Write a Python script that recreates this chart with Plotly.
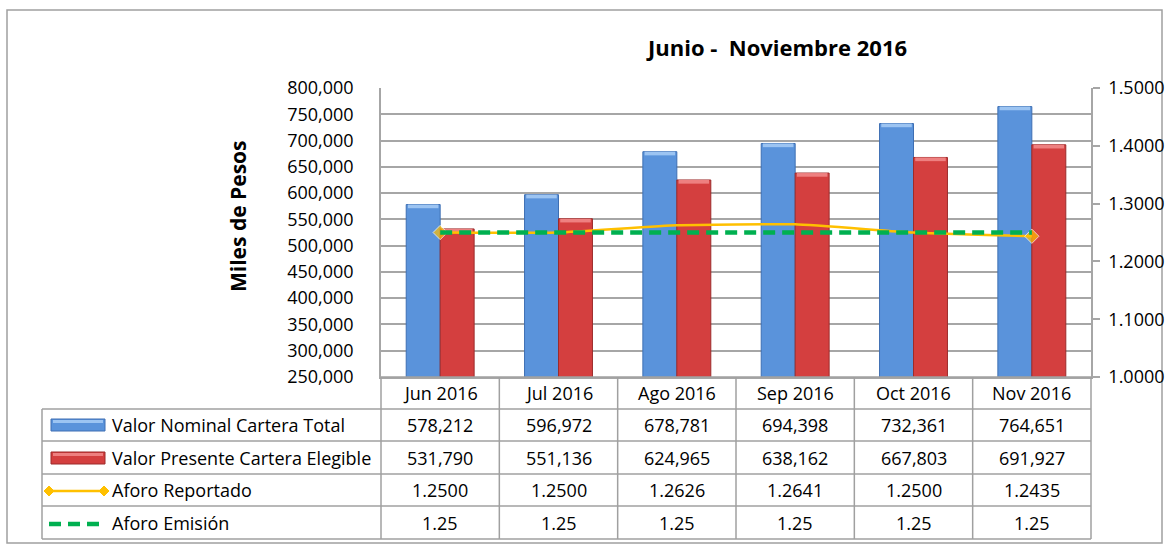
import plotly.graph_objects as go

W, H = 1169, 544

categories = ["Jun 2016", "Jul 2016", "Ago 2016", "Sep 2016", "Oct 2016", "Nov 2016"]
nominal = [578212, 596972, 678781, 694398, 732361, 764651]
presente = [531790, 551136, 624965, 638162, 667803, 691927]
aforo_rep = [1.2500, 1.2500, 1.2626, 1.2641, 1.2500, 1.2435]
aforo_emi = [1.25, 1.25, 1.25, 1.25, 1.25, 1.25]
series_names = ["Valor Nominal Cartera Total", "Valor Presente Cartera Elegible",
                "Aforo Reportado", "Aforo Emisión"]

FONT = "Open Sans"
BLUE = "#5A93DB"
BLUE_EDGE = "#3E6FB3"
BLUE_CAP = "#9CC4F2"
RED = "#D43F3F"
RED_EDGE = "#9C2B2B"
RED_CAP = "#EE8080"
ORANGE = "#FFC000"
GREEN = "#00B050"
GRID = "#A6A6A6"


def px(x):
    return x / W


def py(y):
    return 1 - y / H


X0, X1 = 381, 1091
Y0, Y1 = 88, 377
BAR_W = 0.287
CAP = 7000  # visual height of the bevel highlight, in axis units

fig = go.Figure()
fig.add_trace(go.Bar(x=categories, y=nominal, name=series_names[0],
                     width=BAR_W, offset=-BAR_W,
                     marker=dict(color=BLUE, line=dict(color=BLUE_EDGE, width=1))))
fig.add_trace(go.Bar(x=categories, y=presente, name=series_names[1],
                     width=BAR_W, offset=0,
                     marker=dict(color=RED, line=dict(color=RED_EDGE, width=1))))
fig.add_trace(go.Bar(x=categories, y=[CAP] * len(nominal), base=[v - CAP for v in nominal],
                     width=BAR_W * 0.9, offset=-BAR_W * 0.95, hoverinfo="skip",
                     marker=dict(color=BLUE_CAP, line=dict(width=0))))
fig.add_trace(go.Bar(x=categories, y=[CAP] * len(presente), base=[v - CAP for v in presente],
                     width=BAR_W * 0.9, offset=BAR_W * 0.05, hoverinfo="skip",
                     marker=dict(color=RED_CAP, line=dict(width=0))))
fig.add_trace(go.Scatter(x=categories, y=aforo_rep, name=series_names[2], yaxis="y2",
                         mode="lines+markers",
                         line=dict(color=ORANGE, width=2.5, shape="spline", smoothing=0.4),
                         marker=dict(symbol="diamond", color=ORANGE,
                                     size=[11, 0, 0, 0, 0, 11])))
fig.add_trace(go.Scatter(x=categories, y=aforo_emi, name=series_names[3], yaxis="y2",
                         mode="lines",
                         line=dict(color=GREEN, width=4.5, dash="12px,7px")))

shapes = []
annotations = []

shapes.append(dict(type="rect", xref="paper", yref="paper",
                   x0=px(7), x1=px(1162), y0=py(543), y1=py(10),
                   line=dict(color="#A0A0A0", width=1.5), layer="below"))

row_lines = [377, 409, 441, 474, 506, 539]
TL = 42
line_style = dict(color="#A0A0A0", width=1.5)
for i, yv in enumerate(row_lines):
    x_start = X0 if i == 0 else TL
    shapes.append(dict(type="line", xref="paper", yref="paper",
                       x0=px(x_start), x1=px(X1), y0=py(yv), y1=py(yv), line=line_style))
shapes.append(dict(type="line", xref="paper", yref="paper",
                   x0=px(TL), x1=px(TL), y0=py(409), y1=py(539), line=line_style))
n = len(categories)
for k in range(n + 1):
    shapes.append(dict(type="line", xref="paper", yref="paper",
                       x0=px(X0 + (X1 - X0) * k / n), x1=px(X0 + (X1 - X0) * k / n),
                       y0=py(377), y1=py(539), line=line_style))

row_centers = [393, 425, 458, 490, 523]
row_values = [
    categories,
    [f"{v:,}" for v in nominal],
    [f"{v:,}" for v in presente],
    [f"{v:.4f}" for v in aforo_rep],
    [f"{v:.2f}" for v in aforo_emi],
]
for r, vals in enumerate(row_values):
    for k, txt in enumerate(vals):
        annotations.append(dict(x=categories[k], xref="x", y=py(row_centers[r]), yref="paper",
                                text=txt, showarrow=False,
                                font=dict(family=FONT, size=18, color="#000000"),
                                xanchor="center", yanchor="middle"))

for r, name in enumerate(series_names):
    annotations.append(dict(x=px(110), xref="paper", y=py(row_centers[r + 1]), yref="paper",
                            text=name, showarrow=False,
                            font=dict(family=FONT, size=18, color="#000000"),
                            xanchor="left", yanchor="middle"))

shapes.append(dict(type="rect", xref="paper", yref="paper",
                   x0=px(51), x1=px(105), y0=py(431), y1=py(419),
                   fillcolor=BLUE, line=dict(color=BLUE_EDGE, width=1)))
shapes.append(dict(type="rect", xref="paper", yref="paper",
                   x0=px(53), x1=px(103), y0=py(423), y1=py(420),
                   fillcolor=BLUE_CAP, line=dict(width=0)))
shapes.append(dict(type="rect", xref="paper", yref="paper",
                   x0=px(51), x1=px(105), y0=py(464), y1=py(452),
                   fillcolor=RED, line=dict(color=RED_EDGE, width=1)))
shapes.append(dict(type="rect", xref="paper", yref="paper",
                   x0=px(53), x1=px(103), y0=py(456), y1=py(453),
                   fillcolor=RED_CAP, line=dict(width=0)))
shapes.append(dict(type="line", xref="paper", yref="paper",
                   x0=px(49), x1=px(104), y0=py(491), y1=py(491),
                   line=dict(color=ORANGE, width=2.5)))
for xc in (49, 104):
    shapes.append(dict(type="path", xref="paper", yref="paper",
                       path=f"M {px(xc-5)},{py(491)} L {px(xc)},{py(486)} L {px(xc+5)},{py(491)} L {px(xc)},{py(496)} Z",
                       fillcolor=ORANGE, line=dict(color=ORANGE, width=1)))
shapes.append(dict(type="line", xref="paper", yref="paper",
                   x0=px(49), x1=px(100), y0=py(524), y1=py(524),
                   line=dict(color=GREEN, width=4.5, dash="12px,7px")))

annotations.append(dict(x=px(776), y=py(47), xref="paper", yref="paper",
                        text="<b>Junio -\u00a0 Noviembre 2016</b>", showarrow=False,
                        font=dict(family=FONT, size=22, color="#000000"),
                        xanchor="center", yanchor="middle"))
annotations.append(dict(x=px(238), y=py(216), xref="paper", yref="paper",
                        text="<b>Miles de Pesos</b>", showarrow=False, textangle=-90,
                        font=dict(family=FONT, size=21, color="#000000"),
                        xanchor="center", yanchor="middle"))

fig.update_layout(
    width=W, height=H,
    margin=dict(l=0, r=0, t=0, b=0, autoexpand=False),
    paper_bgcolor="white", plot_bgcolor="white",
    showlegend=False,
    barmode="overlay",
    font=dict(family=FONT, size=18, color="#000000"),
    xaxis=dict(domain=[px(X0), px(X1)], type="category", showticklabels=False,
               showgrid=False, showline=True, linecolor=GRID, linewidth=1.5,
               ticks="", zeroline=False, automargin=False),
    yaxis=dict(domain=[py(Y1), py(Y0)], range=[250000, 800000], dtick=50000,
               tickformat=",", showgrid=True, gridcolor=GRID, gridwidth=1.5,
               showline=True, linecolor=GRID, linewidth=1.5, ticks="",
               ticklabelstandoff=22, zeroline=False, automargin=False,
               tickfont=dict(family=FONT, size=18)),
    yaxis2=dict(overlaying="y", side="right", range=[1.0, 1.5], dtick=0.1,
                tickformat=".4f", showgrid=False, showline=True, linecolor=GRID,
                linewidth=1.5, ticks="outside", ticklen=7, tickcolor=GRID, tickwidth=1.5,
                ticklabelstandoff=5, zeroline=False, automargin=False,
                tickfont=dict(family=FONT, size=18)),
    shapes=shapes,
    annotations=annotations,
)

fig.write_html("out.html", config={"displayModeBar": False})

with open("out.html", "r", encoding="utf-8") as f:
    html = f.read()
html = html.replace("<head>", "<head><style>html,body{margin:0;padding:0;overflow:hidden;}</style>", 1)
with open("out.html", "w", encoding="utf-8") as f:
    f.write(html)
